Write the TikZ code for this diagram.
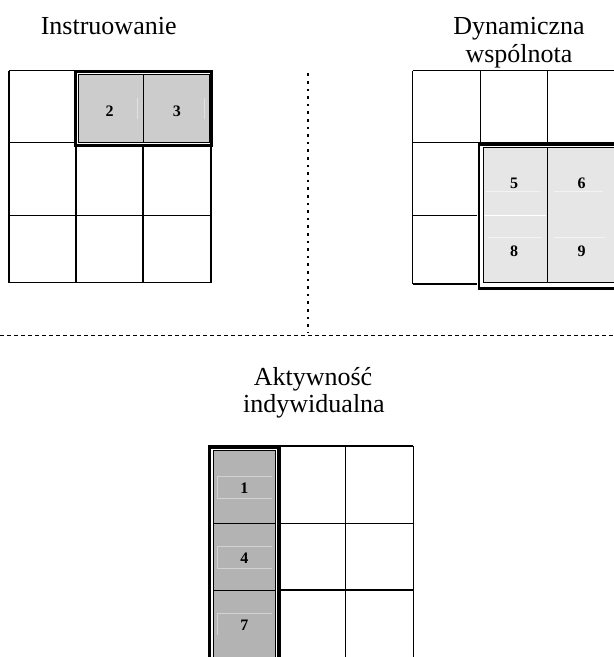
\documentclass[tikz,border=0pt]{standalone}
\usepackage{fontspec}
\setmainfont{Liberation Serif}
\definecolor{fillA}{HTML}{CCCCCC}
\definecolor{fillB}{HTML}{E6E6E6}
\definecolor{fillC}{HTML}{B3B3B3}
\definecolor{ghostC}{HTML}{D2D2D2}
\definecolor{ghostA}{HTML}{E2E2E2}
\definecolor{ghostB}{HTML}{F3F3F3}
\tikzset{
  gridline/.style={line width=1.2pt},
  outerframe/.style={line width=2.7pt},
  innerframe/.style={line width=1pt},
  title/.style={font=\fontsize{26}{28}\selectfont, anchor=base, inner sep=0pt},
  num/.style={font=\fontsize{16}{18}\selectfont\bfseries, anchor=base, inner sep=0pt},
  faint/.style={line width=0.8pt},
}
\begin{document}
\begin{tikzpicture}[x=1pt,y=-1pt]
\useasboundingbox (0,0) rectangle (614,657);
\fill[white] (0,0) rectangle (614,657);

% ---------- titles ----------
\node[title] (tInstr) at (108.7,34.3) {Instruowanie};
\node[title] (tDyn1) at (519,34.3) {Dynamiczna};
\node[title] (tDyn2) at (519,62.5) {wspólnota};
\node[title] (tAkt1) at (313,385) {Aktywność};
\node[title] (tAkt2) at (314,412) {indywidualna};

% ---------- separators ----------
\draw[line width=2pt, dash pattern=on 2.7pt off 4.9pt] (308,73.3) -- (308,333);
\draw[line width=1.3pt, dash pattern=on 4pt off 3pt] (0,335.3) -- (614,335.3);

% ---------- grid 1 (top left) ----------
\foreach \x in {9,76,143,211} \draw[gridline] (\x,70.7) -- (\x,282.7);
\foreach \y in {70.7,142.3,215.3,282.7} \draw[gridline] (9,\y) -- (211,\y);
\fill[white] (74,70) rectangle (212.7,147);
\fill[fillA] (78.3,74.3) rectangle (209,142);
\draw[ghostA, faint] (137.3,98) -- (137.3,119.3) (204,98) -- (204,119.3);
\draw[outerframe] (75.3,71.3) rectangle (211.3,145.7);
\draw[innerframe] (78.3,74.3) rectangle (209,142);
\draw[innerframe] (143,74.3) -- (143,142);
\node[num] (n2) at (109.5,116) {2};
\node[num] (n3) at (176.8,116) {3};

% ---------- grid 2 (top right) ----------
\foreach \x in {412.7,480.3,547.3} \draw[gridline] (\x,70.7) -- (\x,284);
\foreach \y in {70.7,142.3,215.3,284} \draw[gridline] (412.7,\y) -- (616,\y);
\fill[white] (477.3,142.7) rectangle (620,290);
\fill[fillB] (483.3,147.3) rectangle (620,282.7);
\draw[ghostB, faint] (486,191.7) -- (540,191.7) (554,191.7) -- (603,191.7)
  (488,237.7) -- (542,237.7) (554,237.7) -- (605,237.7);
\draw[white, faint] (483.3,215.3) -- (546,215.3);
\draw[outerframe] (479,144.3) rectangle (618,288.3);
\draw[innerframe] (483.3,147.3) rectangle (615.5,282.7);
\draw[innerframe] (547.3,147.3) -- (547.3,282.7);
\node[num] (n5) at (514,188.2) {5};
\node[num] (n6) at (581.5,188.2) {6};
\node[num] (n8) at (514,256.2) {8};
\node[num] (n9) at (581.5,256.2) {9};

% ---------- grid 3 (bottom) ----------
\foreach \x in {208.3,280.3,345.7,413.3} \draw[gridline] (\x,446) -- (\x,660);
\foreach \y in {446,523.3,590} \draw[gridline] (208.3,\y) -- (413.3,\y);
\fill[white] (208.3,446) rectangle (280,660);
\fill[fillC] (213.3,450.7) rectangle (275.7,660);
\draw[ghostC, faint]
  (271.7,476.7) -- (217.3,476.7) -- (217.3,498.3) -- (271.7,498.3)
  (271.7,546) -- (217.3,546) -- (217.3,568.3) -- (271.7,568.3)
  (271.7,613.3) -- (217.3,613.3) -- (217.3,635);
\draw[outerframe] (209.7,662) -- (209.7,447.3) -- (278.7,447.3) -- (278.7,662);
\draw[innerframe] (213.3,662) -- (213.3,450.7) -- (275.7,450.7) -- (275.7,662);
\draw[innerframe] (213.3,523.3) -- (275.7,523.3) (213.3,590) -- (275.7,590);
\node[num] (n1) at (244.3,493.8) {1};
\node[num] (n4) at (244.3,563.8) {4};
\node[num] (n7) at (244.3,630.5) {7};
\end{tikzpicture}
\end{document}
